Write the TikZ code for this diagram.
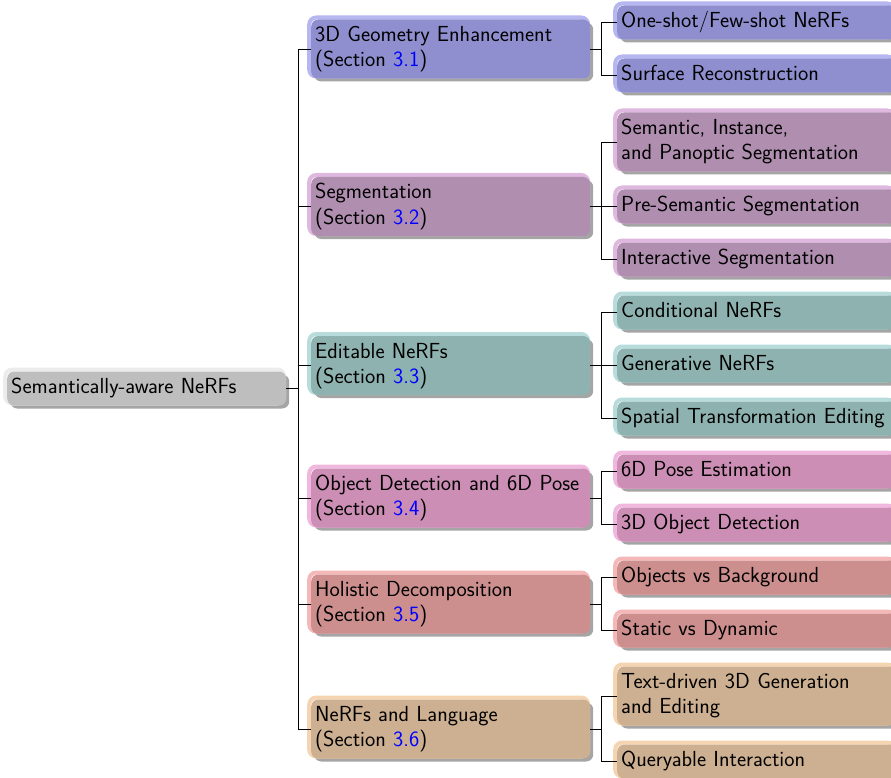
\documentclass[tikz,border=0pt]{standalone}
\usetikzlibrary{shadows}
\definecolor{geoD}{RGB}{143,143,208}
\definecolor{geoL}{RGB}{182,182,240}
\definecolor{segD}{RGB}{176,142,176}
\definecolor{segL}{RGB}{222,184,222}
\definecolor{ediD}{RGB}{142,178,175}
\definecolor{ediL}{RGB}{184,220,220}
\definecolor{objD}{RGB}{204,142,180}
\definecolor{objL}{RGB}{240,184,222}
\definecolor{holD}{RGB}{205,142,142}
\definecolor{holL}{RGB}{245,184,184}
\definecolor{lanD}{RGB}{205,176,145}
\definecolor{lanL}{RGB}{245,212,178}
\definecolor{rootD}{RGB}{190,190,190}
\definecolor{rootL}{RGB}{236,236,236}
\definecolor{shd}{RGB}{165,165,165}
\newcommand\myfs{\fontsize{21.8}{25}\selectfont\sffamily}
\newcommand\sect[1]{(Section \textcolor{blue}{#1})}
\begin{document}
\begin{tikzpicture}[x=1pt,y=-1pt,
  box/.style 2 args={rounded corners=7pt, fill=#1, anchor=west, align=left,
    text width=271pt, inner xsep=4pt, inner ysep=4.5pt, font=\myfs,
    general shadow={shadow xshift=3pt, shadow yshift=-3pt, fill=shd},
    general shadow={shadow xshift=-2pt, shadow yshift=2pt, draw=#2, line width=4pt}},
  conn/.style={draw=black, line width=0.9pt}]
\useasboundingbox (0,0) rectangle (891,778);
\begin{scope}[yshift=1.5pt]
% root
\node[box={rootD}{rootL}] (root) at (7,390) {\strut Semantically-aware NeRFs};
% middle
\node[box={geoD}{geoL}] (m1) at (311,50.5) {\strut 3D Geometry Enhancement\\\strut\sect{3.1}};
\node[box={segD}{segL}] (m2) at (311,208) {\strut Segmentation\\\strut\sect{3.2}};
\node[box={ediD}{ediL}] (m3) at (311,367) {\strut Editable NeRFs\\\strut\sect{3.3}};
\node[box={objD}{objL}] (m4) at (311,499.5) {\strut Object Detection and 6D Pose\\\strut\sect{3.4}};
\node[box={holD}{holL}] (m5) at (311,605.5) {\strut Holistic Decomposition\\\strut\sect{3.5}};
\node[box={lanD}{lanL}] (m6) at (311,730.5) {\strut NeRFs and Language\\\strut\sect{3.6}};
% leaves
\node[box={geoD}{geoL}] (l1) at (617,24) {\strut One-shot/Few-shot NeRFs};
\node[box={geoD}{geoL}] (l2) at (617,77) {\strut Surface Reconstruction};
\node[box={segD}{segL}] (l3) at (617,143.5) {\strut Semantic, Instance,\\\strut and Panoptic Segmentation};
\node[box={segD}{segL}] (l4) at (617,208) {\strut Pre-Semantic Segmentation};
\node[box={segD}{segL}] (l5) at (617,261) {\strut Interactive Segmentation};
\node[box={ediD}{ediL}] (l6) at (617,314) {\strut Conditional NeRFs};
\node[box={ediD}{ediL}] (l7) at (617,367) {\strut Generative NeRFs};
\node[box={ediD}{ediL}] (l8) at (617,420) {\strut Spatial Transformation Editing};
\node[box={objD}{objL}] (l9) at (617,473) {\strut 6D Pose Estimation};
\node[box={objD}{objL}] (l10) at (617,526) {\strut 3D Object Detection};
\node[box={holD}{holL}] (l11) at (617,579) {\strut Objects vs Background};
\node[box={holD}{holL}] (l12) at (617,632) {\strut Static vs Dynamic};
\node[box={lanD}{lanL}] (l13) at (617,697.5) {\strut Text-driven 3D Generation\\\strut and Editing};
\node[box={lanD}{lanL}] (l14) at (617,763) {\strut Queryable Interaction};
\end{scope}
% connectors
\foreach \m in {m1,m2,m3,m4,m5,m6}
  \draw[conn] (root.east) -- ++(12,0) |- (\m.west);
\foreach \p/\c in {m1/l1,m1/l2,m2/l3,m2/l4,m2/l5,m3/l6,m3/l7,m3/l8,m4/l9,m4/l10,m5/l11,m5/l12,m6/l13,m6/l14}
  \draw[conn] (\p.east) -- ++(11,0) |- (\c.west);
\end{tikzpicture}
\end{document}
